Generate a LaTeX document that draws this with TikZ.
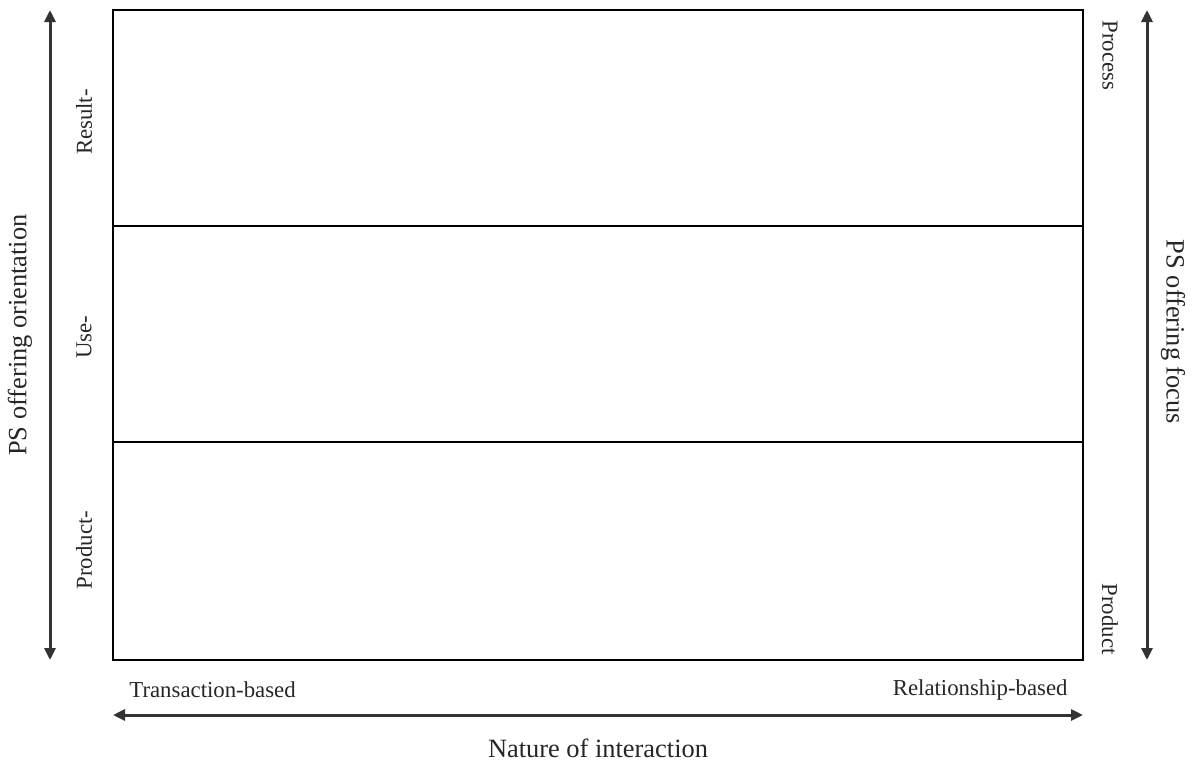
\documentclass[tikz,border=0pt]{standalone}
\usepackage{fontspec}
\setmainfont{Liberation Serif}
\usetikzlibrary{arrows.meta}
\definecolor{axisgray}{HTML}{333333}
\tikzset{
  axis/.style={draw=axisgray, line width=1.5pt, {Triangle[length=6pt,width=5.5pt]}-{Triangle[length=6pt,width=5.5pt]}},
  frame/.style={draw=black, line width=0.6pt},
  lbl/.style={inner sep=0pt, text=black!85, font=\fontsize{11.4}{13}\selectfont},
  bigl/.style={inner sep=0pt, text=black!85, font=\fontsize{13.2}{15}\selectfont},
}
\begin{document}
\begin{tikzpicture}[x=0.5pt,y=-0.5pt]
\useasboundingbox (0,0) rectangle (1195,762);
% matrix frame and band boundaries
\coordinate (tl) at (113,10);
\coordinate (br) at (1083,660);
\draw[frame] (tl) rectangle (br);
\coordinate (b1l) at (113,226); \coordinate (b1r) at (1083,226);
\coordinate (b2l) at (113,442); \coordinate (b2r) at (1083,442);
\draw[frame] (b1l) -- (b1r);
\draw[frame] (b2l) -- (b2r);
% axes
\coordinate (lt) at (50,10);   \coordinate (lb) at (50,660);
\coordinate (rt) at (1147,10); \coordinate (rb) at (1147,660);
\coordinate (bl) at (113,715); \coordinate (bre) at (1083,715);
\draw[axis] (lt) -- (lb);
\draw[axis] (rt) -- (rb);
\draw[axis] (bl) -- (bre);
% axis titles
\node[bigl, rotate=90] (orient) at (20,335) {PS offering orientation};
\node[bigl, rotate=-90] (focus) at (1173,332) {PS offering focus};
\node[bigl] (nature) at (598,748) {Nature of interaction};
% band labels
\node[lbl, rotate=90] (result) at (84,122) {Result-};
\node[lbl, rotate=90] (use) at (84,337) {Use-};
\node[lbl, rotate=90] (product) at (84,550) {Product-};
\node[lbl, rotate=-90, anchor=west] (process) at (1110,20) {Process};
\node[lbl, rotate=-90, anchor=east] (productr) at (1110,655) {Product};
\node[lbl, anchor=west] (trans) at (129,690) {Transaction-based};
\node[lbl, anchor=east] (rel) at (1068,690) {Relationship-based};
\end{tikzpicture}
\end{document}
